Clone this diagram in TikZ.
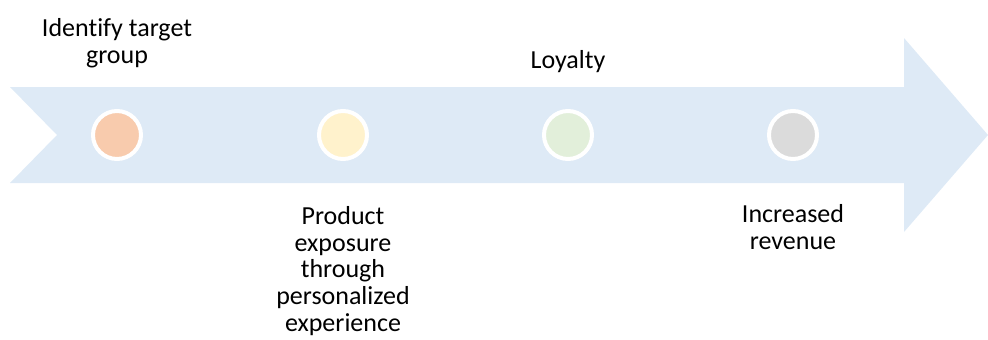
\documentclass[tikz,border=0pt]{standalone}
\usepackage{fontspec}
\setmainfont{Carlito}[Ligatures=NoCommon]
\usetikzlibrary{positioning}

\definecolor{bandblue}{HTML}{DEEAF6}
\definecolor{stepA}{HTML}{F8CBAD}
\definecolor{stepB}{HTML}{FFF2CC}
\definecolor{stepC}{HTML}{E2EFDA}
\definecolor{stepD}{HTML}{DBDBDB}

\begin{document}
\begin{tikzpicture}[
  x=1pt, y=-1pt,
  every node/.style={font=\fontsize{26}{26.8}\selectfont},
  dot/.style={circle, draw=white, line width=4pt, minimum size=48pt, inner sep=0pt},
  above label/.style={align=center, anchor=south, inner sep=0pt},
  below label/.style={align=center, anchor=north, inner sep=0pt}
]
\useasboundingbox (0,0) rectangle (988,340);

% --- la bande en forme de fleche ---
\fill[bandblue] (10,87) -- (904,87) -- (904,38) -- (988,135) -- (904,232)
  -- (904,183) -- (10,183) -- (57,135) -- cycle;

% --- les quatre etapes ---
\node[dot, fill=stepA] (s1) at (117,135) {};
\node[dot, fill=stepB] (s2) at (343,135) {};
\node[dot, fill=stepC] (s3) at (568,135) {};
\node[dot, fill=stepD] (s4) at (793,135) {};

% --- textes au-dessus et au-dessous ---
\node[above label] (t1) at (117,68) {Identify target\\group};
\node[above label] (t3) at (568,73) {Loyalty};
\node[below label] (t2) at (343,206) {Product\\exposure\\through\\personalized\\experience};
\node[below label] (t4) at (793,204) {Increased\\revenue};

\end{tikzpicture}
\end{document}
